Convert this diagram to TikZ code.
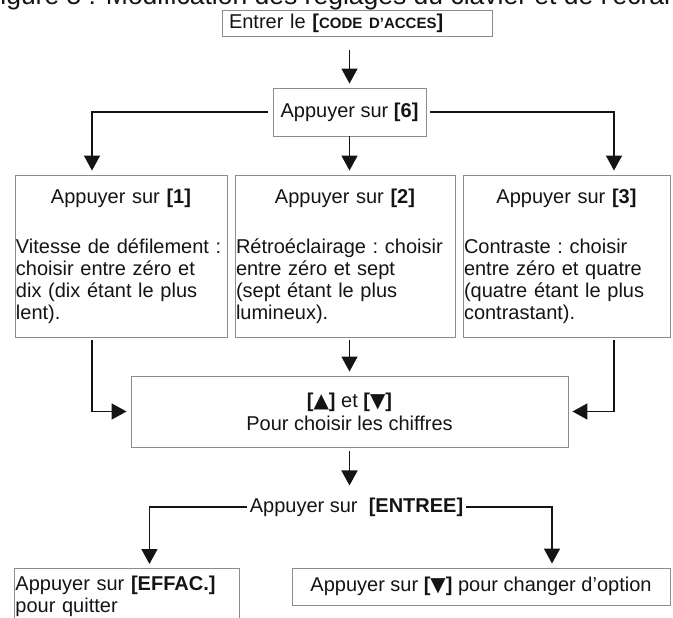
\documentclass[tikz,border=0pt]{standalone}
\usepackage{fontspec}
\setmainfont{Liberation Sans}
\newfontfamily\symfont{DejaVu Sans}
\usetikzlibrary{arrows.meta}

\colorlet{ink}{black!92}
\colorlet{frame}{black!45}

\tikzset{
  box/.style={draw=frame, line width=0.9pt, text=ink, inner xsep=1pt, inner ysep=3pt,
    font=\fontsize{20}{22}\selectfont\frenchspacing},
  flow/.style={draw=ink, line width=1.6pt, -{Triangle[width=16pt,length=15pt]}, shorten >=4pt},
}

\begin{document}
\begin{tikzpicture}[x=1pt, y=-1pt]
  \useasboundingbox (0, 0) rectangle (673, 618);
  \draw (-16, 5) node[anchor=base west, inner sep=0pt, text=ink, font=\fontsize{26.5}{30}\selectfont] (title) {Figure 5 : Modification des réglages du clavier et de l’écran};
  \draw (357, 23)     node[box, inner xsep=7pt, text width=256pt, minimum height=26pt, align=left] (code) {Entrer le \textbf{[{\fontsize{15}{15}\selectfont CODE D’ACCES}]}};
  \draw (349.5, 112)  node[box, minimum width=153pt, minimum height=48pt] (six) {Appuyer sur \textbf{[6]}};
  \draw (121, 256)    node[box, text width=210pt, minimum height=162pt, align=left] (one) {{\centering Appuyer sur \textbf{[1]}\par}\vspace{28pt}Vitesse de défilement :\\choisir entre zéro et\\dix (dix étant le plus\\lent).};
  \draw (345, 256)    node[box, text width=218pt, minimum height=162pt, align=left] (two) {{\centering Appuyer sur \textbf{[2]}\par}\vspace{28pt}Rétroéclairage : choisir\\entre zéro et sept\\(sept étant le plus\\lumineux).};
  \draw (566.5, 256)  node[box, text width=205pt, minimum height=162pt, align=left] (three) {{\centering Appuyer sur \textbf{[3]}\par}\vspace{28pt}Contraste : choisir\\entre zéro et quatre\\(quatre étant le plus\\contrastant).};
  \draw (349.5, 411.5) node[box, minimum width=437pt, minimum height=71pt, align=center] (pick) {\textbf{[{\symfont ▲}]} et \textbf{[{\symfont ▼}]}\\[1pt]Pour choisir les chiffres};
  \draw (356.5, 507)  node[inner sep=3pt, text=ink, font=\fontsize{20}{22}\selectfont] (enter) {Appuyer sur\ \ \textbf{[ENTREE]}};
  \draw (14, 568)     node[box, anchor=north west, text width=223pt, inner ysep=8pt, align=left] (quit) {Appuyer sur \textbf{[EFFAC.]}\\pour quitter};
  \draw (481, 586.5)  node[box, minimum width=378pt, minimum height=37pt] (next) {Appuyer sur \textbf{[{\symfont ▼}]} pour changer d’option};
  \draw[flow, shorten <=14pt] (code.south -| six.north) -- (six.north);
  \draw[flow, shorten <=5pt] (six.west) -| ([xshift=-29pt]one.north);
  \draw[flow] (six.south) -- (six.south |- two.north);
  \draw[flow, shorten <=4pt] (six.east) -| ([xshift=47.5pt]three.north);
  \draw[flow, shorten <=3pt] ([xshift=-29pt]one.south) |- (pick.west);
  \draw[flow, shorten <=3pt] (two.south -| pick.north) -- (pick.north);
  \draw[flow, shorten <=3pt] ([xshift=47.5pt]three.south) |- (pick.east);
  \draw[flow, shorten <=4pt, shorten >=9pt] (pick.south) -- (pick.south |- enter.north);
  \draw[flow] (enter.west) -| ([xshift=22.5pt]quit.north);
  \draw[flow] (enter.east) -| ([xshift=71pt]next.north);
\end{tikzpicture}
\end{document}
